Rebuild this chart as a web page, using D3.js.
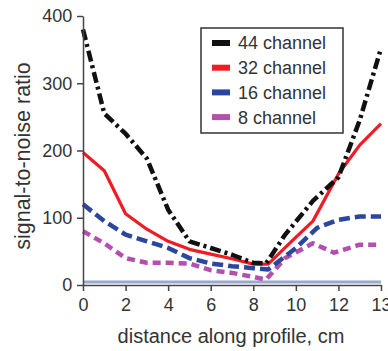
<!DOCTYPE html>
<html><head><meta charset="utf-8">
<script src="https://cdn.jsdelivr.net/npm/d3@7"></script>
<style>html,body{margin:0;padding:0;background:#fff;}svg{display:block;font-family:"Liberation Sans",Arial,sans-serif;}</style>
</head><body>
<svg id="c" width="388" height="351"></svg>
<script>
// Data (x in axis position units; last tick sits at position 14 but is labelled "13")
const ch44X = [0, 1, 2, 3, 4, 5, 6, 7, 8, 8.6, 9.5, 10.8, 12, 13, 14];
const ch44Y = [380, 255, 225, 188, 112, 65, 55, 45, 33, 32, 75, 125, 160, 245, 352];
const ch32X = [0, 1, 2, 3, 4, 5, 6, 7, 8, 8.7, 9.7, 10.8, 12, 13, 14];
const ch32Y = [197, 170, 106, 83, 65, 53, 46, 39, 31, 31, 62, 95, 165, 208, 240];
const ch16X = [0, 1, 2, 3, 4, 5, 6, 7, 8, 8.7, 10, 11, 12, 13, 14];
const ch16Y = [120, 95, 75, 65, 55, 40, 32, 28, 25, 23, 55, 85, 97, 102, 102];
const ch8X  = [0, 1, 2, 3, 4, 5, 6, 7, 8, 8.6, 9.5, 10.8, 11.8, 13, 14];
const ch8Y  = [80, 62, 40, 33, 33, 32, 22, 18, 12, 8, 40, 62, 48, 60, 60];
const seriesNames = ["44 channel", "32 channel", "16 channel", "8 channel"];
const xTickPos = [0, 2, 4, 6, 8, 10, 12, 14];
const xTickLabels = ["0", "2", "4", "6", "8", "10", "12", "13"];
const yTicks = [0, 100, 200, 300, 400];

const svg = d3.select("#c");
const x = d3.scaleLinear().domain([0, 14]).range([83, 381]);
const y = d3.scaleLinear().domain([0, 400]).range([285, 16]);

// baseline band
svg.append("line").attr("x1", x(0)).attr("x2", x(14)).attr("y1", y(0) - 3).attr("y2", y(0) - 3)
  .attr("stroke", "#9aa8cc").attr("stroke-width", 3);

const styles = [
  {xs: ch44X, ys: ch44Y, color: "#111111", dash: "11,4,3,4", w: 4.5},
  {xs: ch32X, ys: ch32Y, color: "#ee1c24", dash: null, w: 3.2},
  {xs: ch16X, ys: ch16Y, color: "#2c46a0", dash: "11,5", w: 4.5},
  {xs: ch8X,  ys: ch8Y,  color: "#b54fae", dash: "8,5", w: 4.5}
];
const line = d3.line().x(d => x(d[0])).y(d => y(d[1]));
[3, 2, 1, 0].forEach(i => {
  const s = styles[i];
  const pts = s.xs.map((v, k) => [v, s.ys[k]]);
  svg.append("path").attr("d", line(pts)).attr("fill", "none")
    .attr("stroke", s.color).attr("stroke-width", s.w)
    .attr("stroke-dasharray", s.dash).attr("stroke-linejoin", "round");
});

// axes
const gx = svg.append("g").attr("transform", `translate(0,${y(0)})`)
  .call(d3.axisBottom(x).tickValues(xTickPos).tickFormat((d, i) => xTickLabels[i]).tickSize(6).tickSizeOuter(0));
const gy = svg.append("g").attr("transform", `translate(${x(0)},0)`)
  .call(d3.axisLeft(y).tickValues(yTicks).tickSize(6).tickSizeOuter(0));
[gx, gy].forEach(g => {
  g.selectAll("path,line").attr("stroke", "#444").attr("stroke-width", 1.5);
  g.selectAll("text").attr("font-size", 18).attr("fill", "#333").attr("font-family", "Liberation Sans, Arial, sans-serif");
});
gx.selectAll("text").attr("dy", "0.95em");
gy.selectAll("text").attr("dx", "-0.1em");

svg.append("text").attr("x", 231).attr("y", 343).attr("text-anchor", "middle")
  .attr("font-size", 20).attr("fill", "#333").text("distance along profile, cm");
svg.append("text").attr("transform", "translate(30,156) rotate(-90)").attr("text-anchor", "middle")
  .attr("font-size", 21.5).attr("fill", "#333").text("signal-to-noise ratio");

// legend
const lg = svg.append("g");
lg.append("rect").attr("x", 201).attr("y", 28).attr("width", 142).attr("height", 105)
  .attr("fill", "#fff").attr("stroke", "#333").attr("stroke-width", 1.5);
seriesNames.forEach((n, i) => {
  const cy = 43 + i * 24.7;
  lg.append("line").attr("x1", 212).attr("x2", 230).attr("y1", cy).attr("y2", cy)
    .attr("stroke", styles[i].color).attr("stroke-width", 6);
  lg.append("text").attr("x", 238).attr("y", cy).attr("dy", "0.36em")
    .attr("font-size", 18).attr("fill", "#333").text(n);
});
</script>
</body></html>
